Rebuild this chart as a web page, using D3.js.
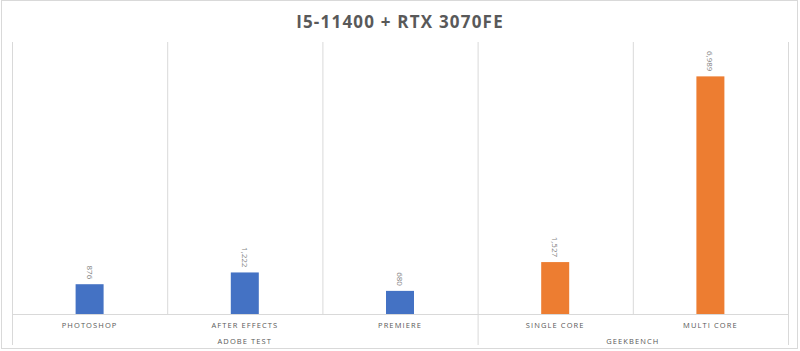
<!DOCTYPE html>
<html>
<head>
<meta charset="utf-8">
<title>I5-11400 + RTX 3070FE</title>
<script src="https://d3js.org/d3.v7.min.js"></script>
<style>
  body { margin: 0; background: #fff; }
  svg text { font-family: "Open Sans", "DejaVu Sans", sans-serif; }
</style>
</head>
<body>
<script>
const title = "I5-11400 + RTX 3070FE";
const categories = ["PHOTOSHOP", "AFTER EFFECTS", "PREMIERE", "SINGLE CORE", "MULTI CORE"];
const groups = ["ADOBE TEST", "ADOBE TEST", "ADOBE TEST", "GEEKBENCH", "GEEKBENCH"];
const values = [876, 1222, 680, 1527, 6989];
const groupNames = ["ADOBE TEST", "GEEKBENCH"];
const groupColors = ["#4472C4", "#ED7D31"];

const w = 800, h = 351;
const plotLeft = 12, plotRight = 788, plotTop = 42, base = 314, bottom = 345;
const grid = "#d9d9d9", textColor = "#595959";

const svg = d3.select("body").append("svg")
  .attr("width", w).attr("height", h);

// outer border
svg.append("rect")
  .attr("x", 1.5).attr("y", 0.5)
  .attr("width", w - 4).attr("height", h - 3)
  .attr("fill", "#fff").attr("stroke", grid);

svg.append("text")
  .attr("x", w / 2).attr("y", 28)
  .attr("text-anchor", "middle")
  .attr("font-size", 17).attr("font-weight", "bold")
  .attr("letter-spacing", 1.2)
  .attr("fill", textColor)
  .text(title);

const x = d3.scaleBand().domain(categories).range([plotLeft, plotRight]).paddingInner(0).paddingOuter(0);
const y = d3.scaleLinear().domain([0, 8000]).range([base, plotTop]);
const color = d3.scaleOrdinal().domain(groupNames).range(groupColors);

// vertical separators between categories
categories.forEach((c, i) => {
  const gx = x(c);
  const isGroupStart = i === 0 || groups[i] !== groups[i - 1];
  svg.append("line")
    .attr("x1", gx + 0.5).attr("x2", gx + 0.5)
    .attr("y1", plotTop).attr("y2", isGroupStart ? bottom : base)
    .attr("stroke", grid);
});
svg.append("line")
  .attr("x1", plotRight + 0.5).attr("x2", plotRight + 0.5)
  .attr("y1", plotTop).attr("y2", bottom)
  .attr("stroke", grid);

// baseline
svg.append("line")
  .attr("x1", plotLeft).attr("x2", plotRight + 0.5)
  .attr("y1", base + 0.5).attr("y2", base + 0.5)
  .attr("stroke", grid);

const barW = 28;
svg.selectAll("rect.bar")
  .data(values)
  .enter().append("rect")
  .attr("class", "bar")
  .attr("x", (d, i) => x(categories[i]) + x.bandwidth() / 2 - barW / 2)
  .attr("y", d => y(d))
  .attr("width", barW)
  .attr("height", d => base - y(d))
  .attr("fill", (d, i) => color(groups[i]));

// value labels, rotated
const fmt = d3.format(",");
svg.selectAll("text.val")
  .data(values)
  .enter().append("text")
  .attr("class", "val")
  .attr("transform", (d, i) => `translate(${x(categories[i]) + x.bandwidth() / 2 - 3},${y(d) - 5}) rotate(90)`)
  .attr("text-anchor", "end")
  .attr("font-size", 8)
  .attr("fill", "#7f7f7f")
  .text(d => fmt(d));

// category labels
svg.selectAll("text.cat")
  .data(categories)
  .enter().append("text")
  .attr("class", "cat")
  .attr("x", d => x(d) + x.bandwidth() / 2)
  .attr("y", 328)
  .attr("text-anchor", "middle")
  .attr("font-size", 7.5)
  .attr("letter-spacing", 1.1)
  .attr("fill", textColor)
  .text(d => d);

// group labels
groupNames.forEach(g => {
  const members = categories.filter((c, i) => groups[i] === g);
  const x0 = x(members[0]);
  const x1 = x(members[members.length - 1]) + x.bandwidth();
  svg.append("text")
    .attr("x", (x0 + x1) / 2)
    .attr("y", 344)
    .attr("text-anchor", "middle")
    .attr("font-size", 7.5)
    .attr("letter-spacing", 1.1)
    .attr("fill", textColor)
    .text(g);
});
</script>
</body>
</html>
